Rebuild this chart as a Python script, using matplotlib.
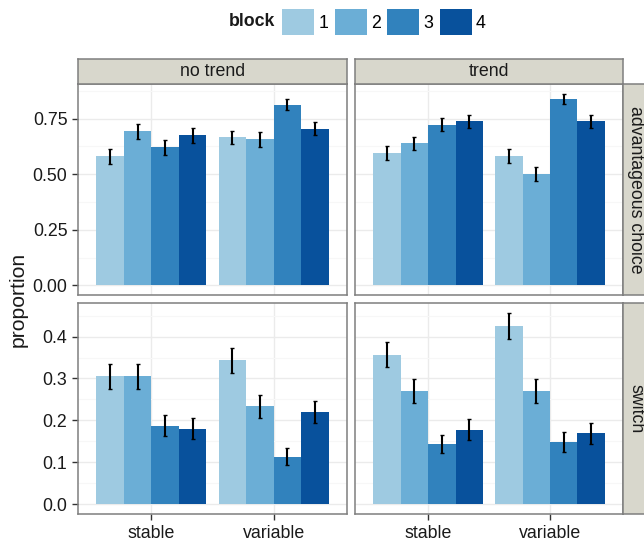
import numpy as np
import matplotlib
matplotlib.use('Agg')
import matplotlib.pyplot as plt
from matplotlib.patches import Patch

#-------------------------------------------------#
#-- Data          -#
#-------------------------------------------------#
conditions = ['stable', 'variable']
blocks     = ['1', '2', '3', '4']
trends     = ['no trend', 'trend']
measures   = ['advantageous choice', 'switch']

# rows = condition (stable, variable), cols = block 1..4
adv_notrend_mean = [[0.580, 0.692, 0.621, 0.674], [0.665, 0.656, 0.812, 0.705]]
adv_notrend_se   = [[0.033, 0.032, 0.033, 0.032], [0.030, 0.032, 0.025, 0.030]]
adv_trend_mean   = [[0.594, 0.638, 0.723, 0.737], [0.580, 0.500, 0.839, 0.737]]
adv_trend_se     = [[0.031, 0.031, 0.029, 0.029], [0.031, 0.031, 0.023, 0.029]]
sw_notrend_mean  = [[0.305, 0.305, 0.187, 0.180], [0.343, 0.234, 0.114, 0.220]]
sw_notrend_se    = [[0.030, 0.030, 0.025, 0.025], [0.030, 0.027, 0.020, 0.027]]
sw_trend_mean    = [[0.357, 0.270, 0.144, 0.178], [0.426, 0.270, 0.149, 0.170]]
sw_trend_se      = [[0.030, 0.029, 0.022, 0.025], [0.031, 0.029, 0.023, 0.025]]

adv_ticks = [0.0, 0.25, 0.5, 0.75]
sw_ticks  = [0.0, 0.1, 0.2, 0.3, 0.4]

#-------------------------------------------------#
#-- Style                                        -#
#-------------------------------------------------#
plt.rcParams['font.family'] = ['Liberation Sans', 'DejaVu Sans']
colorSt   = ['#9ECAE1', '#6BAED6', '#3182BD', '#08519C']
border    = '#7F7F7F'
stripFill = '#D8D7CC'
txtCol    = '#1A1A1A'
fs        = 12.8

W, H = 644., 546.
fig = plt.figure(figsize=(W/100., H/100.), dpi=100)

def fx(px):
    return px / W

def fy(py):
    return 1.0 - py / H

colX = [(78, 347), (355, 623)]
rowY = [(84, 295), (303, 514)]

panelData = [[(adv_notrend_mean, adv_notrend_se), (adv_trend_mean, adv_trend_se)],
             [(sw_notrend_mean, sw_notrend_se), (sw_trend_mean, sw_trend_se)]]
rowTicks = [(adv_ticks, '%.2f'), (sw_ticks, '%.1f')]

barW = 0.9 / len(blocks)
xpos = np.arange(len(conditions))

for r in range(2):
    # free y scale per row, ggplot-like 5% expansion
    allTop = [np.max(np.array(m) + np.array(s)) for (m, s) in panelData[r]]
    M = max(allTop)
    ylo, yhi = -0.05 * M, 1.05 * M
    ticks, fmt = rowTicks[r]
    minor = [(ticks[i] + ticks[i+1]) / 2. for i in range(len(ticks) - 1)]
    minor.append(ticks[-1] + (ticks[1] - ticks[0]) / 2.)
    for c in range(2):
        x0, x1 = colX[c]
        y0, y1 = rowY[r]
        ax = fig.add_axes([fx(x0), fy(y1), fx(x1 - x0), (y1 - y0) / H])
        mean, se = panelData[r][c]
        mean = np.array(mean)
        se = np.array(se)
        for b in range(len(blocks)):
            off = (b - (len(blocks) - 1) / 2.) * barW
            ax.bar(xpos + off, mean[:, b], width=barW, color=colorSt[b], zorder=2)
            ax.errorbar(xpos + off, mean[:, b], yerr=se[:, b], fmt='none',
                        ecolor='black', elinewidth=1.5, capsize=1.6, capthick=1.0, zorder=3)

        ax.set_xlim(-0.6, len(conditions) - 0.4)
        ax.set_ylim(ylo, yhi)
        ax.set_yticks(ticks)
        ax.set_yticks([m for m in minor if m < yhi], minor=True)
        ax.set_xticks(xpos)
        ax.grid(True, which='major', color='#EBEBEB', lw=1.0, zorder=0)
        ax.grid(True, which='minor', axis='y', color='#F7F7F7', lw=0.8, zorder=0)
        ax.set_axisbelow(True)
        for sp in ax.spines.values():
            sp.set_color(border)
            sp.set_linewidth(1.1)
        ax.tick_params(which='minor', length=0)
        ax.tick_params(which='major', length=4.6, width=1.0, color='#333333',
                       labelsize=fs, labelcolor=txtCol, pad=3)
        if c == 0:
            ax.set_yticklabels([fmt % t for t in ticks])
        else:
            ax.tick_params(axis='y', length=0, labelleft=False)
        if r == 1:
            ax.set_xticklabels(conditions)
        else:
            ax.tick_params(axis='x', length=0, labelbottom=False)

        #-- top strips
        if r == 0:
            sax = fig.add_axes([fx(x0), fy(84), fx(x1 - x0), 25 / H])
            sax.set_facecolor(stripFill)
            sax.set_xticks([])
            sax.set_yticks([])
            for sp in sax.spines.values():
                sp.set_color(border)
                sp.set_linewidth(1.1)
            sax.text(0.5, 0.5, trends[c], ha='center', va='center',
                     fontsize=fs, color=txtCol, transform=sax.transAxes)

    #-- right strips
    y0, y1 = rowY[r]
    rax = fig.add_axes([fx(623), fy(y1), 25 / W, (y1 - y0) / H])
    rax.set_facecolor(stripFill)
    rax.set_xticks([])
    rax.set_yticks([])
    for sp in rax.spines.values():
        sp.set_color(border)
        sp.set_linewidth(1.1)
    rax.text(0.5, 0.5, measures[r], ha='center', va='center', rotation=-90,
             fontsize=fs, color=txtCol, transform=rax.transAxes)

#-- y axis title
fig.text(fx(18), fy(299), 'proportion', rotation=90, ha='center', va='center',
         fontsize=15.2, color=txtCol)

#-- legend
handles = [Patch(facecolor=colorSt[b], edgecolor='none', label=blocks[b]) for b in range(len(blocks))]
fig.legend(handles=handles, loc='center left', bbox_to_anchor=(fx(282), fy(22)),
           ncol=4, frameon=False, fontsize=fs, handlelength=1.8, handleheight=1.8,
           handletextpad=0.25, columnspacing=0.35, borderpad=0, borderaxespad=0)
fig.text(fx(275), fy(22), 'block', ha='right', va='center', fontsize=fs,
         fontweight='bold', color=txtCol)

plt.savefig('out.png', dpi=100)
plt.close()
